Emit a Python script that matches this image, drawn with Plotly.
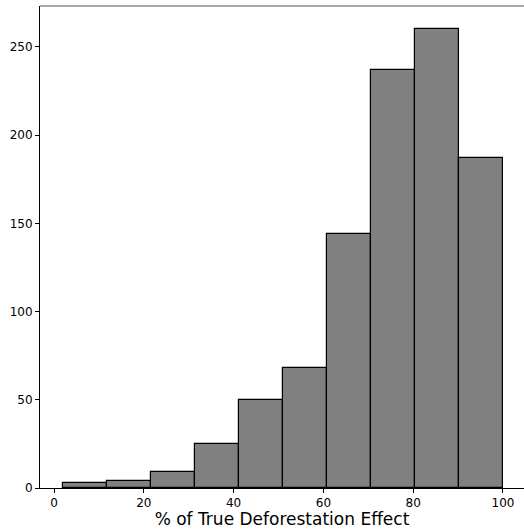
import plotly.graph_objects as go

bin_edges = [2.0, 11.8, 21.6, 31.4, 41.2, 51.0, 60.8, 70.6, 80.4, 90.2, 100.0]
counts = [3, 4, 9, 25, 50, 68, 144, 237, 260, 187]
x_ticks = [0, 20, 40, 60, 80, 100]
y_ticks = [0, 50, 100, 150, 200, 250]
x_title = "% of True Deforestation Effect"

centers = [(a + b) / 2 for a, b in zip(bin_edges[:-1], bin_edges[1:])]
widths = [b - a for a, b in zip(bin_edges[:-1], bin_edges[1:])]

fig = go.Figure(go.Bar(
    x=centers, y=counts, width=widths,
    marker=dict(color="#808080", line=dict(color="black", width=1.2)),
))

font = "DejaVu Sans, sans-serif"
fig.update_layout(
    width=524, height=529,
    margin=dict(l=40, r=0, t=6, b=41),
    plot_bgcolor="white", paper_bgcolor="white",
    showlegend=False, bargap=0,
    font=dict(family=font, size=12, color="black"),
    xaxis=dict(
        range=[-3.12, 104.68], tickvals=x_ticks, ticks="outside", ticklen=4,
        tickcolor="black", showline=True, linecolor="black", linewidth=1,
        showgrid=False, zeroline=False,
        title=dict(text=x_title, font=dict(size=17, family=font), standoff=5),
    ),
    yaxis=dict(
        range=[0, 273.2], tickvals=y_ticks, ticks="outside", ticklen=4,
        tickcolor="black", showline=True, linecolor="black", linewidth=1,
        showgrid=False, zeroline=False,
    ),
    shapes=[dict(type="line", xref="paper", yref="paper", x0=0, x1=1, y0=1, y1=1,
                 line=dict(color="#555555", width=1))],
)

fig.write_html("out.html")
